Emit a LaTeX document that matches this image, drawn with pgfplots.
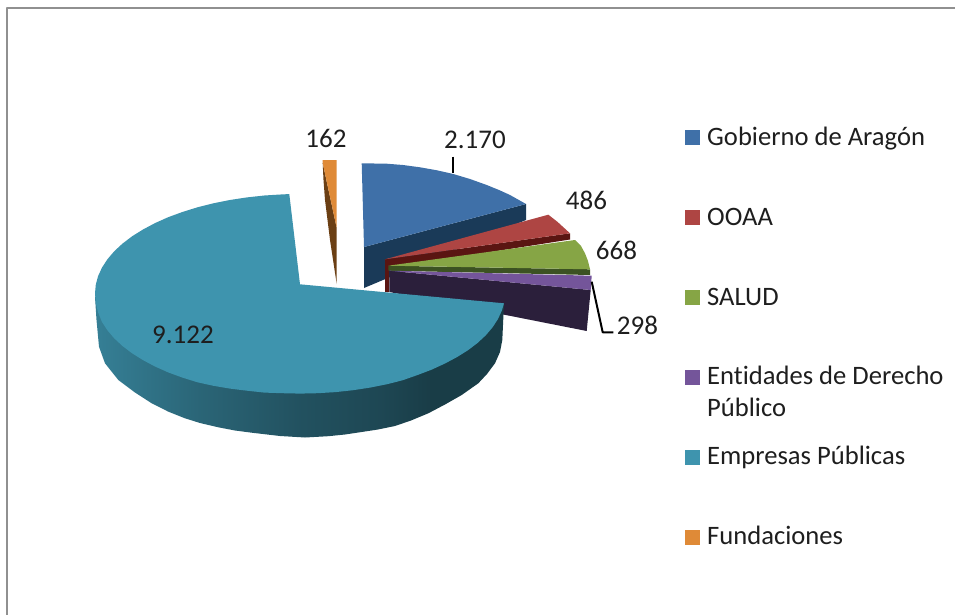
\documentclass[border=0pt]{standalone}
\usepackage{fontspec}
\setmainfont{Carlito}[Ligatures=NoCommon]
\usepackage{pgfplots}
\pgfplotsset{compat=1.18}
\definecolor{cBlue}{HTML}{3F70A8}
\definecolor{cBlueD}{HTML}{1A3A58}
\definecolor{cRed}{HTML}{AE4543}
\definecolor{cRedD}{HTML}{5A1512}
\definecolor{cGreen}{HTML}{86A545}
\definecolor{cGreenD}{HTML}{3C5222}
\definecolor{cPurple}{HTML}{74559A}
\definecolor{cPurpleD}{HTML}{2B1F3B}
\definecolor{cTeal}{HTML}{3E94AE}
\definecolor{cOrange}{HTML}{DF8A37}
\definecolor{cOrangeD}{HTML}{6B3F14}
\definecolor{cFrame}{HTML}{909090}
\definecolor{cText}{HTML}{1E1E1E}
\pgfdeclarehorizontalshading{tealside}{100bp}{
 color(0bp)=(cTeal!85!black);
 color(10bp)=(cTeal!80!black);
 color(20bp)=(cTeal!92!black);
 color(28bp)=(cTeal!82!black);
 color(38bp)=(cTeal!68!black);
 color(50bp)=(cTeal!55!black);
 color(60bp)=(cTeal!48!black);
 color(66bp)=(cTeal!41!black);
 color(100bp)=(cTeal!41!black)}
\tikzset{
  lbl/.style={font=\fontsize{27}{32}\selectfont, text=cText, inner sep=0pt, anchor=base},
  legt/.style={font=\fontsize{26.6}{32}\selectfont, text=cText, inner sep=0pt, anchor=base west},
}
\begin{document}
\begin{tikzpicture}
\begin{axis}[
  scale only axis, width=955pt, height=615pt,
  xmin=0, xmax=955, ymin=0, ymax=615, y dir=reverse,
  hide axis, clip=true,
  every axis plot/.append style={draw=none, line join=round},
]
% full page extent
\path (axis cs:0,0) rectangle (axis cs:955,615);
% frame
\addplot[draw=cFrame, line width=2.4pt] coordinates {(7,615) (7,8) (955,8)};

% fundaciones (orange)
\addplot[fill=cOrangeD] coordinates {(322.7,163) (323.5,180) (325,200) (330,240) (336.7,284) (336.7,228)} --cycle;
\addplot[fill=cOrange] coordinates {(322.7,160) (336.7,160) (336.7,228) (322.7,163)} --cycle;

% gobierno (blue)
\addplot[fill=cBlueD] coordinates {(364,247) (526,204) (526,220) (364,288)} --cycle;
\addplot[fill=cBlue] coordinates {(361.7,163.3) (386.7,163.7) (403,165) (420,167.3) (437,170.3) (453.3,174) (470,179) (486.7,185) (499,190) (510,195) (526,204) (364,247)} --cycle;

% OOAA (red)
\addplot[fill=cRedD] coordinates {(385,259.3) (570,233.3) (570,239.5) (389,268) (389,292) (385,292)} --cycle;
\addplot[fill=cRed] coordinates {(385,259.3) (548.3,214.7) (557.3,221.7) (570,233.3)} --cycle;

% entidades (purple) side
\addplot[fill=cPurpleD] coordinates {(389.3,270.7) (590.7,290) (586.7,331) (389.3,292)} --cycle;

% salud (green)
\addplot[fill=cGreenD] coordinates {(388.3,265.7) (590,269.3) (590,275) (388.3,270.7)} --cycle;
\addplot[fill=cGreen] coordinates {(388.3,265.7) (575,240) (581,246) (585,253.3) (588,261) (590,269.3)} --cycle;

% entidades top
\addplot[fill=cPurple] coordinates {(389.3,270.7) (591.7,275.7) (590.7,290)} --cycle;

% empresas (teal)
\addplot[shading=tealside, shading angle=0] coordinates {
 (504,303.3) (502.3,340) (500,352) (495,363.3) (487,374) (478.3,383.3) (461.7,395)
 (445,404.5) (428.3,413.3) (411,420.5) (395,426) (378,429.5) (361.7,432) (345,434.5)
 (328.3,436.2) (305,437.5) (280,436) (251.7,432.7) (235,430.5) (218.3,427.3) (200,423)
 (185,418.3) (168,411.5) (151.7,403.3) (135,392.5) (118.3,380) (105,363.3) (99,346.7)
 (96.5,320) (95,296.7) (300,293)} --cycle;
\addplot[fill=cTeal] coordinates {
 (300,284.3) (504,303.3) (501.9,310.5) (498,319) (492.6,327.3) (485.8,335.3) (477.5,343)
 (467.9,350.3) (457,357.1) (445,363.5) (431.8,369.6) (417.6,375) (402.5,380.3) (386.6,384.3)
 (370.1,387.6) (353.1,390.2) (335.6,392.1) (317.9,393.2) (300,393.6) (282.1,393.2) (264.4,392.6)
 (246.9,390.7) (229.9,388.6) (213.4,385.8) (197.5,382.3) (182.4,377.6) (168.2,372.4) (155,366.5)
 (143,360.1) (132.1,353.3) (122.5,346) (114.2,338.3) (107.4,330.3) (102,322) (98.1,312.5)
 (95.8,303) (95,293.3) (95.8,284.6) (98.1,276.1) (102,267.6) (107.4,259.3) (114.2,251.3)
 (122.5,243.6) (132.1,236.3) (143,229.5) (155,223.1) (168.2,217.2) (182.4,212) (197.5,207.3)
 (213.4,203.3) (229.9,200) (246.9,197.4) (264.4,195.5) (282.1,194.4) (289.3,194.1)} --cycle;

% leader lines
\addplot[draw=black, line width=2pt] coordinates {(452.7,156.7) (452.7,173)};
\addplot[draw=black, line width=2pt] coordinates {(591.7,281.7) (602.7,332.3) (613.3,332.3)};

% legend swatches
\addplot[fill=cBlue] coordinates {(685,130) (700,130) (700,145) (685,145)} --cycle;
\addplot[fill=cRed] coordinates {(685,210) (700,210) (700,225) (685,225)} --cycle;
\addplot[fill=cGreen] coordinates {(685,290) (700,290) (700,305) (685,305)} --cycle;
\addplot[fill=cPurple] coordinates {(685,370) (700,370) (700,385) (685,385)} --cycle;
\addplot[fill=cTeal] coordinates {(685,450) (700,450) (700,465) (685,465)} --cycle;
\addplot[fill=cOrange] coordinates {(685,530) (700,530) (700,545) (685,545)} --cycle;

% data labels
\node[lbl] at (axis cs:326,147) {162};
\node[lbl] at (axis cs:475,149) {2.170};
\node[lbl] at (axis cs:586.5,209) {486};
\node[lbl] at (axis cs:616.5,259.5) {668};
\node[lbl] at (axis cs:637.5,334.5) {298};
\node[lbl] at (axis cs:183,343) {9.122};

% legend text
\node[legt] at (axis cs:707,145) {Gobierno de Aragón};
\node[legt] at (axis cs:707,225) {OOAA};
\node[legt] at (axis cs:707,305) {SALUD};
\node[legt] at (axis cs:707,384.5) {Entidades de Derecho};
\node[legt] at (axis cs:707,416) {Público};
\node[legt] at (axis cs:707,464.5) {Empresas Públicas};
\node[legt] at (axis cs:707,544.5) {Fundaciones};
\end{axis}
\end{tikzpicture}
\end{document}
